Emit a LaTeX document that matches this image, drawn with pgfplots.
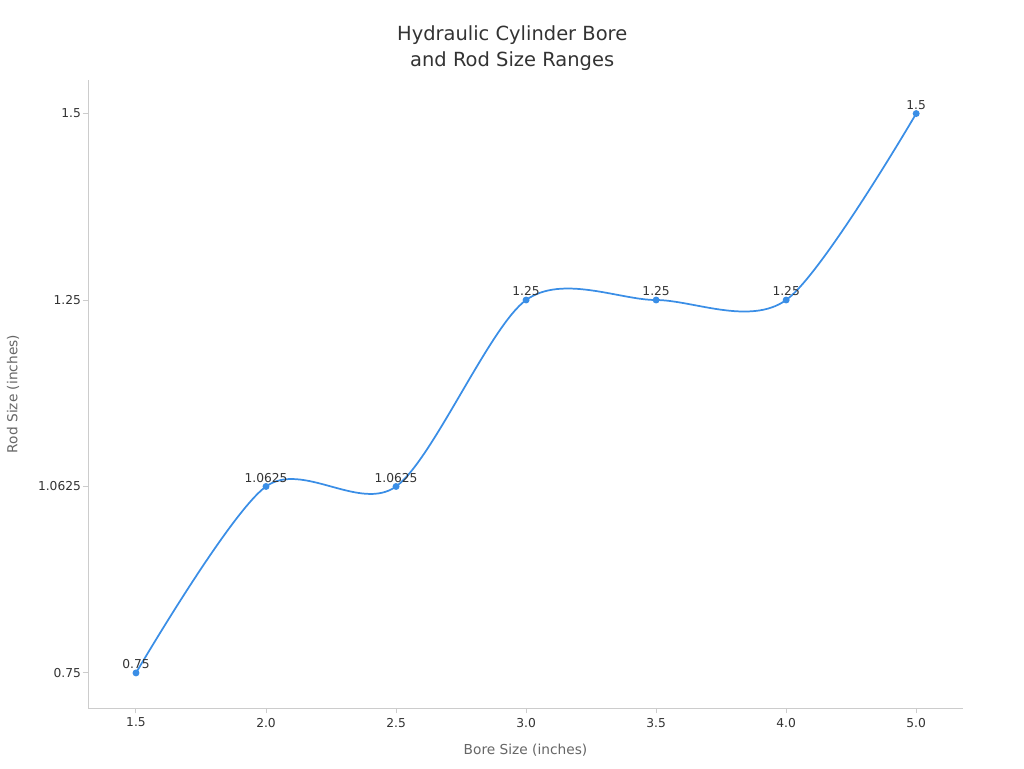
\documentclass[border=0pt]{standalone}
\usepackage{fontspec}
\setmainfont{DejaVu Sans}
\usepackage{pgfplots}
\pgfplotsset{compat=1.18}
\definecolor{curve}{HTML}{3A8EE6}
\definecolor{spine}{HTML}{CCCCCC}
\definecolor{ticktext}{HTML}{333333}
\definecolor{labeltext}{HTML}{666666}

\begin{document}
\begin{tikzpicture}
\path[use as bounding box] (0,0) rectangle (768pt,576pt);
\begin{axis}[
    at={(66pt,45pt)}, anchor=south west,
    scale only axis,
    width=656.25pt, height=471pt,
    xmin=-0.369, xmax=6.36,
    ymin=-0.188, ymax=3.18,
    xtick={0,1,2,3,4,5,6},
    xticklabels={1.5,2.0,2.5,3.0,3.5,4.0,5.0},
    ytick={0,1,2,3},
    yticklabels={0.75,1.0625,1.25,1.5},
    axis x line*=bottom, axis y line*=left,
    axis line style={spine, line width=0.75pt, -},
    tick style={spine, line width=0.75pt},
    tick align=outside,
    major tick length=4pt,
    ticklabel style={font=\fontsize{9.2}{11}\selectfont, text=ticktext},
    yticklabel style={xshift=2.25pt},
    /pgf/number format/assume math mode=true,
    title={Hydraulic Cylinder Bore\\and Rod Size Ranges},
    title style={at={(axis description cs:0.5,1)}, anchor=center, align=center,
        yshift=18pt, xshift=-10pt, text=ticktext,
        font=\fontsize{14.6}{19.5}\selectfont},
    xlabel={Bore Size (inches)},
    ylabel={Rod Size (inches)},
    xlabel style={at={(axis description cs:0.5,0)}, anchor=center, yshift=-31.5pt,
        text=labeltext, font=\fontsize{10.3}{12}\selectfont},
    ylabel style={at={(axis description cs:-0.0857,0.5)}, anchor=center,
        text=labeltext, font=\fontsize{10.3}{12}\selectfont},
    clip=false,
]
\addplot[curve, line width=1.3pt, smooth, mark=*, mark size=1.9pt,
    mark options={fill=curve, draw=curve},
    nodes near coords, point meta=explicit symbolic,
    every node near coord/.style={font=\fontsize{9.2}{11}\selectfont, text=ticktext, anchor=south, yshift=-1pt}]
    table[meta=lab] {
    x y lab
    0 0 0.75
    1 1 1.0625
    2 1 1.0625
    3 2 1.25
    4 2 1.25
    5 2 1.25
    6 3 1.5
    };
\end{axis}
\end{tikzpicture}
\end{document}
